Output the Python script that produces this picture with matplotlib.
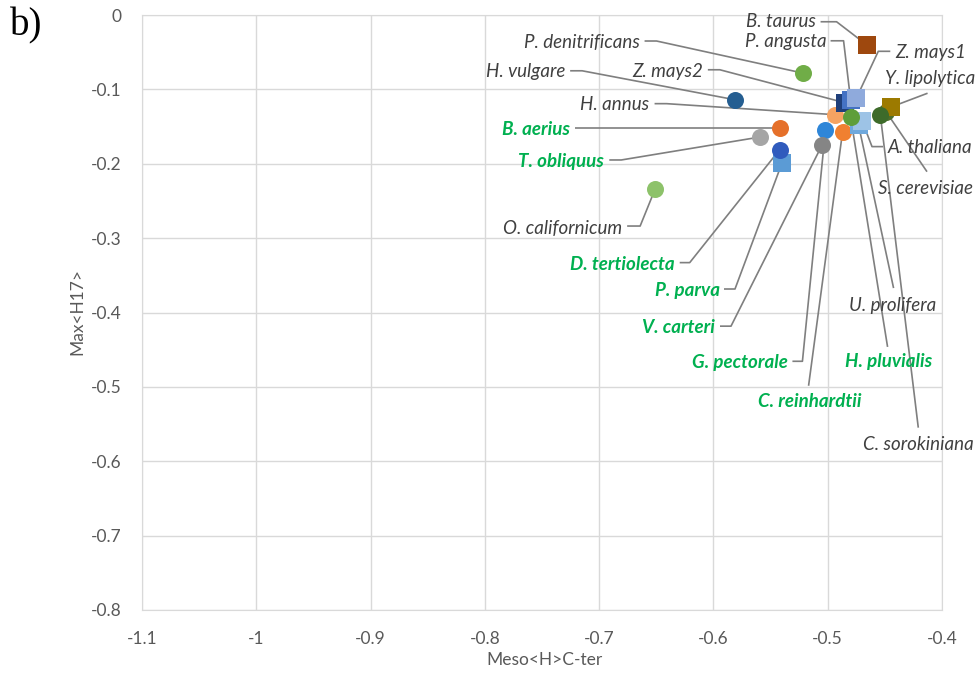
import numpy as np
import matplotlib
matplotlib.use("Agg")
import matplotlib.pyplot as plt

# --- data ------------------------------------------------------------------
species = ["O. californicum", "H. vulgare", "P. denitrificans", "B. taurus",
           "B. aerius", "T. obliquus", "P. parva", "D. tertiolecta",
           "G. pectorale", "V. carteri", "H. annus", "C. reinhardtii",
           "Z. mays2", "P. angusta", "Z. mays1", "U. prolifera", "A. thaliana",
           "H. pluvialis", "S. cerevisiae", "Y. lipolytica", "C. sorokiniana"]
meso_h_cter = [-0.651, -0.581, -0.522, -0.466,
               -0.542, -0.559, -0.540, -0.542,
               -0.502, -0.505, -0.494, -0.487,
               -0.485, -0.480, -0.475, -0.473, -0.470,
               -0.480, -0.449, -0.445, -0.454]
max_h17 = [-0.234, -0.114, -0.078, -0.040,
           -0.152, -0.164, -0.199, -0.181,
           -0.155, -0.175, -0.134, -0.157,
           -0.118, -0.114, -0.112, -0.148, -0.142,
           -0.137, -0.130, -0.124, -0.134]
algae = {"B. aerius", "T. obliquus", "D. tertiolecta", "P. parva", "V. carteri",
         "G. pectorale", "C. reinhardtii", "H. pluvialis"}

xticks = [-1.1, -1, -0.9, -0.8, -0.7, -0.6, -0.5, -0.4]
yticks = [0, -0.1, -0.2, -0.3, -0.4, -0.5, -0.6, -0.7, -0.8]

# --- styles -----------------------------------------------------------------
colors = {"O. californicum": "#8DC26A", "H. vulgare": "#255E91",
          "P. denitrificans": "#70AD47", "B. taurus": "#9E480E",
          "B. aerius": "#E5702A", "T. obliquus": "#A5A5A5",
          "P. parva": "#5B9BD5", "D. tertiolecta": "#305BBD",
          "G. pectorale": "#2F86D8", "V. carteri": "#858585",
          "H. annus": "#F5A362", "C. reinhardtii": "#F08030",
          "Z. mays2": "#1F3F7A", "P. angusta": "#4472C4",
          "Z. mays1": "#8FAADC", "U. prolifera": "#6FA8DC",
          "A. thaliana": "#9DC3E6", "H. pluvialis": "#5E9E3A",
          "Y. lipolytica": "#9C7A00", "S. cerevisiae": "#4E6E2C",
          "C. sorokiniana": "#3D6B2A"}
squares = {"B. taurus", "P. parva", "Z. mays2", "P. angusta", "Z. mays1",
           "U. prolifera", "A. thaliana", "Y. lipolytica"}

# label layout: text offset (px), alignment, leader vertices (px offsets)
layout = {
    "B. taurus":        ((-51, 23), "right", [(-46, 23), (-30, 23)]),
    "P. denitrificans": ((-163, 31), "right", [(-158, 32), (-146, 32)]),
    "H. vulgare":       ((-170, 28), "right", [(-165, 29), (-153, 29)]),
    "H. annus":         ((-185, 10), "right", [(-180, 11), (-168, 11)]),
    "Z. mays2":         ((-142, 31), "right", [(-137, 33), (-125, 33)]),
    "P. angusta":       ((-24, 58), "right", [(-20, 59), (-7, 59)]),
    "Z. mays1":         ((39, 46), "left", [(34, 47), (22, 47)]),
    "B. aerius":        ((-210, -1), "right", [(-205, 0), (-193, 0)]),
    "T. obliquus":      ((-156, -25), "right", [(-151, -23), (-139, -23)]),
    "D. tertiolecta":   ((-105, -115), "right", [(-100, -113), (-90, -113)]),
    "P. parva":         ((-62, -127), "right", [(-58, -126), (-47, -126)]),
    "V. carteri":       ((-107, -182), "right", [(-102, -181), (-91, -181)]),
    "G. pectorale":     ((-38, -232), "right", [(-33, -231), (-23, -231)]),
    "C. reinhardtii":   ((-33, -270), "center", [(-34, -254)]),
    "H. pluvialis":     ((38, -245), "center", [(37, -230)]),
    "U. prolifera":     ((34, -180), "center", [(35, -163)]),
    "A. thaliana":      ((26, -27), "left", [(21, -26), (10, -26)]),
    "C. sorokiniana":   ((38, -330), "center", [(38, -313)]),
    "S. cerevisiae":    ((40, -77), "center", [(41, -60)]),
    "Y. lipolytica":    ((40, 29), "center", [(37, 14)]),
    "O. californicum":  ((-33, -39), "right", [(-28, -37), (-15, -37)]),
}

plt.rcParams["font.family"] = ["Lato", "DejaVu Sans"]

fig = plt.figure(figsize=(9.79, 6.79), dpi=100)
ax = fig.add_axes([142 / 979, 69 / 679, 800 / 979, 595 / 679])
ax.set_xlim(-1.1, -0.4)
ax.set_ylim(-0.8, 0)
ax.set_xticks(xticks)
ax.set_xticklabels(["{:g}".format(t) for t in xticks])
ax.set_yticks(yticks)
ax.set_yticklabels(["{:g}".format(t) for t in yticks])
ax.grid(True, color="#D9D9D9", lw=1.0)
ax.set_axisbelow(True)
for s in ax.spines.values():
    s.set_color("#D9D9D9")
ax.tick_params(length=0, labelsize=12.5, colors="#595959")
ax.tick_params(axis="y", pad=15)
ax.tick_params(axis="x", pad=15)
fig.text(545 / 979, 1 - 660 / 679, "Meso<H>C-ter", fontsize=12.5,
         color="#595959", ha="center", va="center")
fig.text(77 / 979, 1 - 312 / 679, "Max<H17>", fontsize=12.5,
         color="#595959", ha="center", va="center", rotation=90)

# leader lines first, then markers on top
to_disp = ax.transData.transform
to_data = ax.transData.inverted().transform
for name, x, y in zip(species, meso_h_cter, max_h17):
    (tdx, tdy), ha, verts = layout[name]
    p = to_disp((x, y))
    path = [to_data(p + np.array(v)) for v in verts] + [(x, y)]
    path = np.array(path)
    ax.plot(path[:, 0], path[:, 1], color="#7F7F7F", lw=1.2, zorder=2,
            clip_on=False, solid_capstyle="butt")
    tx, ty = to_data(p + np.array([tdx, tdy]))
    green = name in algae
    ax.text(tx, ty, name, ha=ha, va="center", fontsize=13.5, style="italic",
            fontweight="bold" if green else "normal",
            color="#00B050" if green else "#404040", zorder=3, clip_on=False)

for i, (name, x, y) in enumerate(zip(species, meso_h_cter, max_h17)):
    ax.scatter([x], [y], s=150, marker="s" if name in squares else "o",
               color=colors[name], linewidths=0, zorder=5 + i * 0.01,
               clip_on=False)

fig.text(10 / 979, 1 - 26 / 679, "b)", fontsize=28, family="Liberation Serif",
         va="center", ha="left", color="black")

fig.savefig("out.png", dpi=100)
